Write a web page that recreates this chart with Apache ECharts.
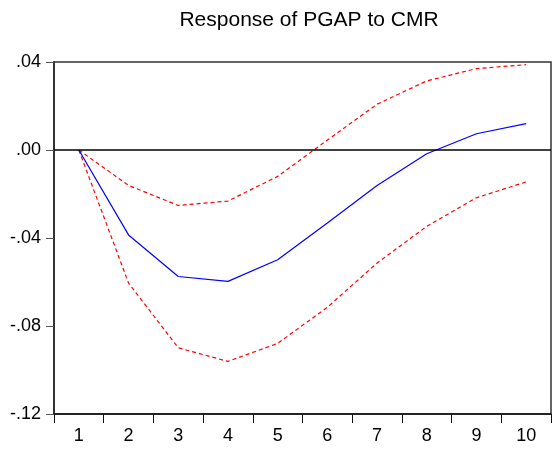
<!DOCTYPE html>
<html>
<head>
<meta charset="utf-8">
<script src="https://cdn.jsdelivr.net/npm/echarts@6/dist/echarts.min.js"></script>
<style>html,body{margin:0;padding:0;background:#fff}#c{width:552px;height:450px}</style>
</head>
<body>
<div id="c"></div>
<script>
const titleText = "Response of PGAP to CMR";
const periods = ["1","2","3","4","5","6","7","8","9","10"];
const response = [0, -0.0386, -0.0575, -0.0597, -0.0499, -0.0332, -0.0161, -0.0017, 0.0074, 0.0120];
const upperBand = [0, -0.0161, -0.0252, -0.0232, -0.0120, 0.0045, 0.0208, 0.0314, 0.0370, 0.0388];
const lowerBand = [0, -0.0605, -0.0899, -0.0961, -0.0879, -0.0715, -0.0514, -0.0347, -0.0217, -0.0145];
const yTicks = [-0.12, -0.08, -0.04, 0.00, 0.04];
const yTickLabels = ["-.12", "-.08", "-.04", ".00", ".04"];

const chart = echarts.init(document.getElementById('c'), null, {renderer: 'canvas'});
const font = 'Liberation Sans, Arial, sans-serif';
chart.setOption({
  animation: false,
  backgroundColor: '#fff',
  title: {
    text: titleText, left: 304, top: 5, textAlign: 'center',
    textStyle: {fontFamily: font, fontSize: 21, fontWeight: 'normal', color: '#000'}
  },
  grid: {left: 54, right: 1, top: 62, bottom: 36, show: true, borderColor: '#333', borderWidth: 1.5, containLabel: false},
  xAxis: {
    type: 'category', data: periods, boundaryGap: true,
    axisLine: {onZero: false, lineStyle: {color: '#111', width: 1.5}},
    axisTick: {show: true, inside: false, length: 9, alignWithLabel: false, lineStyle: {color: '#111', width: 1}},
    axisLabel: {fontFamily: font, fontSize: 18, color: '#000', margin: 13},
    splitLine: {show: false}
  },
  yAxis: {
    type: 'value', min: yTicks[0], max: yTicks[yTicks.length - 1], interval: 0.04,
    axisLine: {show: true, onZero: false, lineStyle: {color: '#333', width: 2}},
    axisTick: {show: true, inside: false, length: 8, lineStyle: {color: '#555', width: 1}},
    axisLabel: {
      fontFamily: font, fontSize: 18, color: '#000', margin: 13,
      formatter: function (v) {
        for (let i = 0; i < yTicks.length; i++) if (Math.abs(v - yTicks[i]) < 1e-9) return yTickLabels[i];
        return '';
      }
    },
    splitLine: {show: false}
  },
  series: [
    {
      type: 'line', data: upperBand, symbol: 'none', silent: true,
      lineStyle: {color: '#ff0000', width: 1.2, type: [4, 3]},
      markLine: {
        silent: true, symbol: 'none', label: {show: false},
        lineStyle: {color: '#000', width: 1.5, type: 'solid'},
        data: [{yAxis: 0}]
      }
    },
    {
      type: 'line', data: lowerBand, symbol: 'none', silent: true,
      lineStyle: {color: '#ff0000', width: 1.2, type: [4, 3]}
    },
    {
      type: 'line', data: response, symbol: 'none', silent: true,
      lineStyle: {color: '#0000ff', width: 1.2, type: 'solid'}
    }
  ]
});
</script>
</body>
</html>
